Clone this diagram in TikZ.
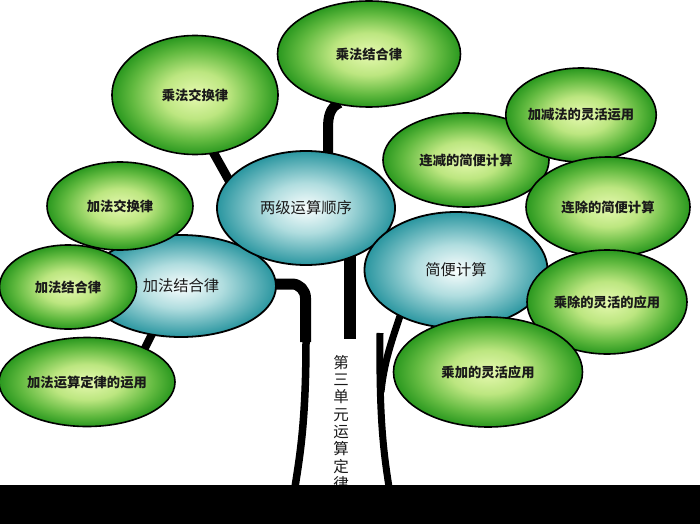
\documentclass[tikz,border=0pt]{standalone}
\usepackage{fontspec}
\newfontfamily\cjk{Noto Sans CJK SC}
\usetikzlibrary{shapes.geometric}
\definecolor{gc0}{HTML}{E6F9B0}
\definecolor{gc1}{HTML}{BCE680}
\definecolor{gc2}{HTML}{62BA40}
\definecolor{gc3}{HTML}{2A981F}
\definecolor{bc0}{HTML}{FAFEFE}
\definecolor{bc1}{HTML}{B0DDDF}
\definecolor{bc2}{HTML}{2A96A0}
\definecolor{txt}{HTML}{1A1A1A}
\pgfdeclareradialshading{greenball}{\pgfpoint{0bp}{0bp}}{color(0bp)=(gc0); color(10bp)=(gc1); color(19bp)=(gc2); color(25bp)=(gc3); color(50bp)=(gc3)}
\pgfdeclareradialshading{blueball}{\pgfpoint{0bp}{0bp}}{color(0bp)=(bc0); color(11bp)=(bc1); color(25bp)=(bc2); color(50bp)=(bc2)}
\tikzset{
  gleaf/.style={ellipse, draw=black, line width=1.6pt, shade, shading=greenball, inner sep=0pt, text=txt,
    font=\cjk\bfseries\fontsize{13.3pt}{16pt}\selectfont},
  bleaf/.style={ellipse, draw=black, line width=1.8pt, shade, shading=blueball, inner sep=0pt, text=txt,
    font=\cjk\fontsize{15.3pt}{18pt}\selectfont},
  branch/.style={draw=black, line cap=butt, line join=round}
}
\begin{document}
\begin{tikzpicture}[x=1pt,y=-1pt]
\useasboundingbox (0,0) rectangle (700,524);
% connector end points
\coordinate (l1a) at (212,150);
\coordinate (l1b) at (231,184);
\coordinate (l2a) at (340,103);
\coordinate (l2b) at (328,128);
\coordinate (l2c) at (328,160);
\coordinate (l3a) at (152,334);
\coordinate (l3b) at (141,356);
\coordinate (lt0) at (268,284);
\coordinate (lt1) at (292,284);
\coordinate (lt2) at (305.5,298);
\coordinate (lt3) at (305.5,342);
\coordinate (lt4) at (306,340);
\coordinate (lt5) at (295,487);
\coordinate (mt0) at (350,250);
\coordinate (mt1) at (350,339);
\coordinate (rt0) at (380,333);
\coordinate (rt1) at (389,487);
\coordinate (rb0) at (400,316);
\coordinate (rb1) at (381,392);
% branches
\draw[branch, line width=9pt] (l1a) -- (l1b);
\draw[branch, line width=10pt] (l2a) to[out=200,in=90] (l2b) -- (l2c);
\draw[branch, line width=8pt] (l3a) -- (l3b);
\draw[branch, line width=11pt] (lt0) -- (lt1) to[out=0,in=90] (lt2) -- (lt3);
\draw[branch, line width=7.5pt] (lt4) .. controls (306,420) and (300,455) .. (lt5);
\draw[branch, line width=11.5pt] (mt0) -- (mt1);
\draw[branch, line width=7pt] (rt0) .. controls (379,420) and (384,455) .. (rt1);
\draw[branch, line width=7pt] (rb0) .. controls (392,340) and (384,362) .. (rb1);
% trunk text
\node[font=\cjk\fontsize{15.5pt}{17.3pt}\selectfont, align=center, inner sep=0pt, anchor=north, text=txt] (title) at (341,355)
  {第\\三\\单\\元\\运\\算\\定\\律};
% blue ellipses
\node[bleaf, minimum width=190pt, minimum height=102pt] (jfjh) at (181,286) {加法结合律};
\node[bleaf, minimum width=178pt, minimum height=114pt] (ljys) at (306,208) {两级运算顺序};
\node[bleaf, minimum width=183pt, minimum height=116pt] (jbjs) at (456,270) {简便计算};
% green ellipses
\node[gleaf, minimum width=166pt, minimum height=119pt] (cfjh) at (195,95) {乘法交换律};
\node[gleaf, minimum width=183pt, minimum height=106pt] (cfjhl) at (369,54) {乘法结合律};
\node[gleaf, minimum width=146pt, minimum height=88pt] (jfjhl) at (120,206) {加法交换律};
\node[gleaf, minimum width=137pt, minimum height=84pt] (jfjhg) at (68,287) {加法结合律};
\node[gleaf, minimum width=176pt, minimum height=89pt] (jfys) at (87,382) {加法运算定律的运用};
\node[gleaf, minimum width=166pt, minimum height=94pt] (ljjs) at (466,160) {连减的简便计算};
\node[gleaf, minimum width=144pt, minimum height=94pt] (jjf) at (581,115) {加减法的灵活运用};
\node[gleaf, minimum width=164pt, minimum height=100pt] (lcjs) at (608,207) {连除的简便计算};
\node[gleaf, minimum width=160pt, minimum height=104pt] (ccyy) at (607,302) {乘除的灵活的应用};
\node[gleaf, minimum width=189pt, minimum height=110pt] (cjyy) at (488,372) {乘加的灵活应用};
% ground bar
\fill[black] (0,485) rectangle (700,524);
\end{tikzpicture}
\end{document}
